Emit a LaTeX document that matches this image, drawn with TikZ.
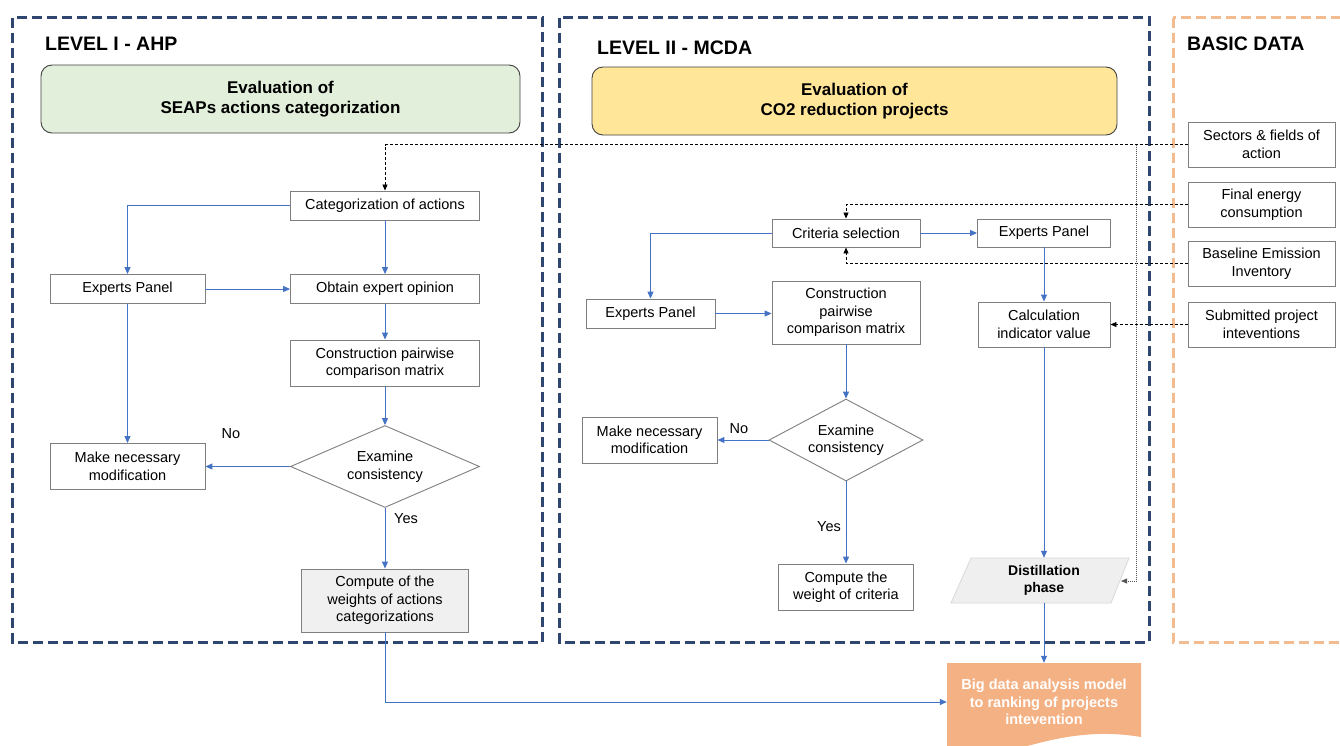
\documentclass[tikz,border=0pt]{standalone}
\usepackage{fontspec}
\setmainfont{Liberation Sans}
\usetikzlibrary{arrows.meta,shapes.geometric}
\definecolor{navy}{HTML}{2E4670}
\definecolor{panelorange}{HTML}{F2BB90}
\definecolor{flowblue}{HTML}{4472C4}
\definecolor{boxgray}{HTML}{7F7F7F}
\definecolor{greenfill}{HTML}{E2EFDA}
\definecolor{yellowfill}{HTML}{FFE699}
\definecolor{headborder}{HTML}{404040}
\definecolor{lightfill}{HTML}{F0F0F0}
\definecolor{distfill}{HTML}{EFEFEF}
\definecolor{distborder}{HTML}{D9D9D9}
\definecolor{bigorange}{HTML}{F4B183}
\definecolor{dotgray}{HTML}{555555}
\begin{document}
\begin{tikzpicture}[x=1pt,y=-1pt,
  box/.style={draw=boxgray, line width=0.9pt, fill=white, align=center, inner sep=1pt,
    font=\fontsize{14.5}{17.5}\selectfont},
  headbox/.style={draw=headborder, line width=0.9pt, rounded corners=11pt, align=center,
    font=\fontsize{17}{20}\selectfont\bfseries},
  decide/.style={diamond, draw=boxgray, line width=0.9pt, fill=white, align=center, inner sep=0pt,
    aspect=2, font=\fontsize{14.5}{17.5}\selectfont},
  flow/.style={draw=flowblue, line width=1pt, -{Triangle[length=7pt,width=6pt]}},
  dataline/.style={draw=black, line width=0.8pt, dash pattern=on 3pt off 2pt, -{Triangle[length=6pt,width=5pt]}},
  dotline/.style={draw=dotgray, line width=0.8pt, dash pattern=on 1pt off 1pt, -{Triangle[length=6pt,width=5pt]}},
  panel/.style={line width=3pt, dash pattern=on 10pt off 5pt},
  title/.style={anchor=west, inner sep=0pt, font=\fontsize{19.5}{22}\selectfont\bfseries},
  lbl/.style={inner sep=0pt, font=\fontsize{14.5}{17.5}\selectfont}
]
\useasboundingbox (0,0) rectangle (1340,745);
\clip (0,0) rectangle (1340,745);
\fill[white] (0,0) rectangle (1340,745);

% panels
\draw[panel, draw=navy] (12.5,17.5) rectangle (542.5,642);
\draw[panel, draw=navy] (559.5,17.5) rectangle (1149,642);
\draw[panel, draw=panelorange] (1173,17.5) rectangle (1360,642);

% titles
\node[title] (t1) at (45,44) {LEVEL I - AHP};
\node[title] (t2) at (597,48) {LEVEL II - MCDA};
\node[title] (t3) at (1187,44) {BASIC DATA};

% header boxes
\node[headbox, fill=greenfill, minimum width=479pt, minimum height=68pt] (h1) at (280.5,99) {Evaluation of\\SEAPs actions categorization};
\node[headbox, fill=yellowfill, minimum width=525pt, minimum height=68pt] (h2) at (854.5,101) {Evaluation of\\CO2 reduction projects};

% level I
\node[box, minimum width=189pt, minimum height=29pt] (cat) at (385,205.5) {Categorization of actions};
\node[box, minimum width=155pt, minimum height=29pt] (ep1) at (127.5,289) {Experts Panel};
\node[box, minimum width=189pt, minimum height=29pt] (obt) at (385,289) {Obtain expert opinion};
\node[box, minimum width=189pt, minimum height=46pt] (cons1) at (385,363) {Construction pairwise\\comparison matrix};
\node[decide, minimum width=189pt, minimum height=82pt] (dia1) at (385,466.5) {Examine\\consistency};
\node[box, minimum width=155pt, minimum height=46pt] (mod1) at (127.5,466.5) {Make necessary\\modification};
\node[box, fill=lightfill, minimum width=167pt, minimum height=63pt] (comp1) at (385,600.5) {Compute of the\\weights of actions\\categorizations};
\node[lbl] (no1) at (231,434) {No};
\node[lbl] (yes1) at (406,519) {Yes};

% level II
\node[box, minimum width=148pt, minimum height=28pt] (crit) at (846,233) {Criteria selection};
\node[box, minimum width=133pt, minimum height=28pt] (ep3) at (1044,233) {Experts Panel};
\node[box, minimum width=129pt, minimum height=29pt] (ep2) at (650.5,313.5) {Experts Panel};
\node[box, minimum width=148pt, minimum height=63pt] (cons2) at (846,312.5) {Construction\\pairwise\\comparison matrix};
\node[decide, minimum width=154pt, minimum height=82pt] (dia2) at (846,440) {Examine\\consistency};
\node[box, minimum width=135pt, minimum height=46pt] (mod2) at (649.5,440) {Make necessary\\modification};
\node[box, minimum width=135pt, minimum height=46pt] (comp2) at (846,587) {Compute the\\weight of criteria};
\node[box, minimum width=132pt, minimum height=45pt] (calc) at (1044,324.5) {Calculation\\indicator value};
\node[lbl] (no2) at (739,429) {No};
\node[lbl] (yes2) at (829,527) {Yes};

% distillation
\filldraw[fill=distfill, draw=distborder, line width=0.8pt] (971,558) -- (1129,558) -- (1111,603) -- (951,603) -- cycle;
\node[inner sep=0pt, minimum width=140pt, minimum height=45pt, align=center,
  font=\fontsize{14}{17.5}\selectfont\bfseries] (dist) at (1044,580.5) {Distillation\\phase};

% big data
\fill[bigorange] (947,663) -- (1141,663) -- (1141,737) .. controls (1100,730) and (1065,736) .. (1035,744) .. controls (1005,752) and (975,754) .. (947,752) -- cycle;
\node[inner sep=0pt, minimum width=194pt, minimum height=78pt, align=center, text=white,
  font=\fontsize{14.5}{17.5}\selectfont\bfseries] (big) at (1044,702) {Big data analysis model\\to ranking of projects\\intevention};

% basic data
\node[box, minimum width=147pt, minimum height=45pt] (sect) at (1261.5,144.5) {Sectors \& fields of\\action};
\node[box, minimum width=147pt, minimum height=45pt] (fin) at (1261.5,204.5) {Final energy\\consumption};
\node[box, minimum width=147pt, minimum height=45pt] (base) at (1261.5,263.5) {Baseline Emission\\Inventory};
\node[box, minimum width=147pt, minimum height=45pt] (sub) at (1261.5,324.5) {Submitted project\\inteventions};
\coordinate (branch) at (1136,144.5);
\coordinate (distR) at (1121,581);

% flow connectors level I
\draw[flow] (cat.west) -| (ep1.north);
\draw[flow] (cat.south) -- (obt.north);
\draw[flow] (ep1.east) -- (obt.west);
\draw[flow] (obt.south) -- (cons1.north);
\draw[flow] (cons1.south) -- (dia1.north);
\draw[flow] (ep1.south) -- (mod1.north);
\draw[flow] (dia1.west) -- (mod1.east);
\draw[flow] (dia1.south) -- (comp1.north);
\draw[flow] (comp1.south) |- (big.west);

% flow connectors level II
\draw[flow] (crit.west) -| (ep2.north);
\draw[flow] (crit.east) -- (ep3.west);
\draw[flow] (ep2.east) -- (ep2.east -| cons2.west);
\draw[flow] (cons2.south) -- (dia2.north);
\draw[flow] (dia2.west) -- (mod2.east);
\draw[flow] (dia2.south) -- (comp2.north);
\draw[flow] (ep3.south) -- (calc.north);
\draw[flow] (calc.south) -- (dist.north);
\draw[flow] (dist.south) -- (big.north);

% data connectors
\draw[dataline] (sect.west) -| (cat.north);
\draw[dataline] (fin.west) -| (crit.north);
\draw[dataline] (base.west) -| (crit.south);
\draw[dataline] (sub.west) -- (calc.east);
\draw[dotline] (branch) |- (distR);
\end{tikzpicture}
\end{document}
